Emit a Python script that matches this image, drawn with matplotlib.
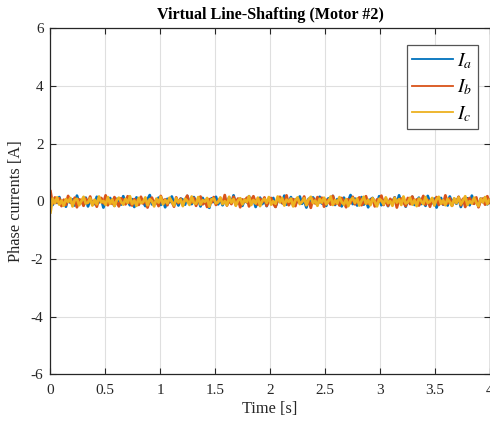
import numpy as np
import matplotlib
matplotlib.use('Agg')
import matplotlib.pyplot as plt

# phase currents, in units of 0.01 A
ia_cA = [3, -12, 8, -5, 15, -9, 2, -18, 11, -4, 7, -14, 20, -6, 1, -10, 13, -17, 5, -2,
         -9, 16, -3, 10, -21, 6, -8, 12, -1, -15, 9, 4, -11, 18, -7, 3, -13, 8, -19, 14,
         -5, 11, -2, -16, 7, 22, -10, 1, -6, 13, -12, 5, -20, 9, -3, 17, -8, 2, -14, 10,
         6, -11, 19, -4, -9, 15, -1, 8, -17, 12, -6, 3, -22, 11, -2, 16, -10, 7, -13, 4,
         -8, 14, -5, 21, -12, 1, 9, -15, 6, -3, 18, -7, 11, -19, 2, 13, -9, 5, -16, 8,
         -4, 12, -18, 3, 10, -6, 20, -11, -1, 15, -13, 7, -2, 17, -8, 4, -21, 9, -5, 14,
         1, -10, 16, -7, 6, -15, 11, -3, 19, -12, 8, -1, -17, 13, -6, 2, 22, -9, 10, -14,
         -3, 15, -11, 5, -20, 7, 12, -4, -8, 18, -13, 3, 9, -16, 6, -2, 14, -10, 21, -5,
         11, -18, 4, -7, 16, -12, 1, 13, -9, 8, -15, 19, -3, -6, 10, -21, 5, 12, -11, 2,
         -14, 17, -4, 9, -8, 15, -19, 6, -1, 11, -13, 20, -7, 3, -16, 10, -2, 14, -10, 5]
ib_cA = [35, -8, 14, -3, 11, -16, 6, -12, 19, -1, -9, 13, -20, 7, 4, -15, 10, -5, 17, -11,
         2, -18, 9, 12, -6, 21, -13, 3, -8, 15, -2, -17, 11, 5, -10, 18, -4, -14, 8, 1,
         -12, 16, -7, 10, -21, 4, 13, -9, 2, -16, 19, -3, 7, -13, 11, -1, -18, 14, -6, 9,
         -11, 5, 20, -8, -2, 12, -15, 6, 17, -10, 3, -19, 8, -4, 15, -12, 1, 11, -7, 22,
         -14, 4, -9, 16, -3, 10, -20, 7, -1, 13, -17, 5, 18, -6, -11, 9, -2, 14, -15, 3,
         12, -8, -19, 6, 16, -4, -10, 21, -13, 2, 8, -16, 11, -5, -1, 17, -12, 4, -22, 10,
         -7, 15, -3, 13, -18, 6, 1, -11, 19, -9, 3, -14, 12, -2, -20, 8, -6, 16, -10, 5,
         14, -13, -4, 18, -8, 2, 11, -17, 7, -1, 20, -12, 4, -15, 9, -5, 13, -21, 6, 10,
         -3, -16, 12, -9, 17, -2, 7, -14, 1, 19, -11, 5, -18, 8, -6, 15, -12, 3, -10, 21,
         -7, 11, -15, 4, -1, 16, -13, 9, -19, 6, 12, -4, -8, 14, -20, 2, 10, -11, 18, -5]
ic_cA = [-38, 10, -6, 14, -11, 3, -15, 8, -2, 12, -17, 5, 9, -13, 1, 16, -7, -4, 11, -14,
         6, -10, 17, -3, 2, -12, 15, -8, 7, -16, 4, 13, -1, -11, 9, -5, 18, -9, 3, -15,
         12, -6, -2, 14, -13, 8, 1, -17, 10, -4, 16, -10, 5, -7, 13, -1, -14, 11, -3, 6,
         -16, 9, 2, -12, 17, -5, -8, 15, -11, 4, -1, 12, -18, 7, 10, -6, -3, 14, -9, 1,
         -13, 16, -4, 8, -15, 3, 11, -10, 6, -2, 18, -12, 5, -7, 13, -16, 2, 9, -5, 15,
         -11, 1, -8, 17, -3, 12, -14, 6, -1, 10, -17, 4, 14, -9, -2, 11, -13, 7, 16, -6,
         3, -15, 9, -4, 13, -10, 1, 17, -12, 5, -7, 15, -2, -11, 8, -16, 4, 12, -5, 10,
         -14, 2, 16, -8, 6, -13, 11, -1, -17, 9, 3, -10, 14, -6, 1, -15, 12, -4, 8, -12,
         17, -7, -3, 13, -11, 5, -16, 10, 2, -9, 15, -5, -1, 12, -14, 7, 16, -8, 4, -13,
         9, -2, -15, 11, -6, 14, -10, 3, 18, -12, 1, -7, 13, -4, -16, 10, -3, 15, -9, 6]
t_end = 4.0
labels = ['$I_a$', '$I_b$', '$I_c$']
colors = ['#0072BD', '#D95319', '#EDB120']

plt.rcParams['font.family'] = ['Liberation Serif', 'DejaVu Serif']
plt.rcParams['mathtext.fontset'] = 'stix'
plt.rcParams['axes.unicode_minus'] = False

fig = plt.figure(figsize=(4.9, 4.25), dpi=100)
ax = fig.add_axes([0.103, 0.119, 0.896, 0.814])

t = np.linspace(0, t_end, len(ia_cA))
for vals, lab, col in zip([ia_cA, ib_cA, ic_cA], labels, colors):
    ax.plot(t, np.array(vals) / 100.0, color=col, lw=2.0, label=lab)

ax.set_xlim(0, 4)
ax.set_ylim(-6, 6)
ax.set_xticks([0, 0.5, 1, 1.5, 2, 2.5, 3, 3.5, 4])
ax.set_xticklabels(['0', '0.5', '1', '1.5', '2', '2.5', '3', '3.5', '4'])
ax.set_yticks([-6, -4, -2, 0, 2, 4, 6])
ax.grid(True, color='#dfdfdf', lw=0.8)
ax.set_axisbelow(True)
ax.tick_params(direction='in', length=4, width=0.8, labelsize=11,
               colors='#262626', top=True, right=True)
ax.tick_params(axis='x', pad=7)
ax.tick_params(axis='y', pad=5)
for sp in ax.spines.values():
    sp.set_color('#262626')
    sp.set_linewidth(0.9)

ax.set_xlabel('Time [s]', fontsize=11.8, color='#262626', labelpad=3)
ax.set_ylabel('Phase currents [A]', fontsize=11.8, color='#262626', labelpad=5)
ax.set_title('Virtual Line-Shafting (Motor #2)', fontsize=11.6, fontweight='bold', pad=7)

leg = ax.legend(loc='upper right', bbox_to_anchor=(0.974, 0.952), borderaxespad=0,
                fontsize=14, fancybox=False, framealpha=1,
                edgecolor='#555555', handlelength=2.1, labelspacing=0.35,
                handletextpad=0.2, borderpad=0.3)
leg.get_frame().set_linewidth(0.9)
for h in leg.get_lines():
    h.set_linewidth(1.3)

plt.savefig('out.png', dpi=100)
